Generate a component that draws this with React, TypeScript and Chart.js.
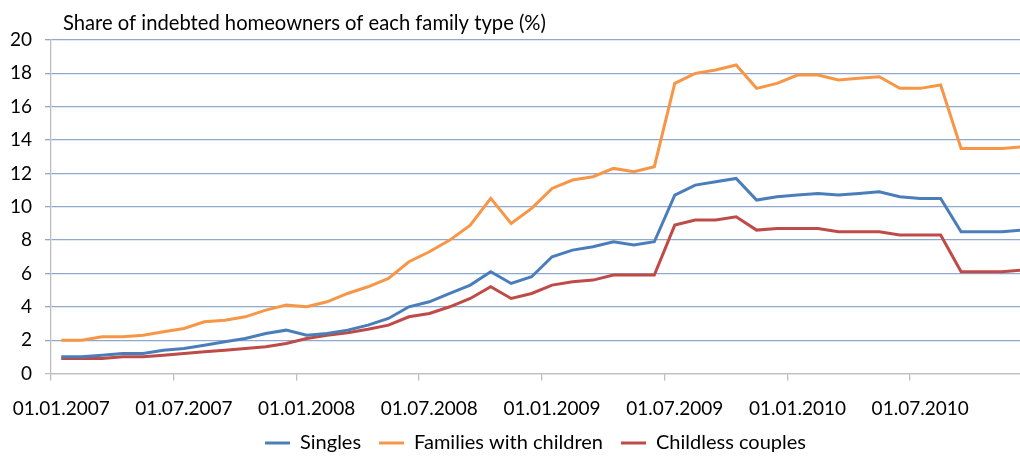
import { useEffect, useRef } from 'react';
import { Chart, registerables } from 'chart.js';

Chart.register(...registerables);

const FONT = 'Lato, "Open Sans", sans-serif';
const TITLE = 'Share of indebted homeowners of each family type (%)';

// Monthly observations, 01.01.2007 ... 01.12.2010
const months: string[] = [
  '01.01.2007', '01.02.2007', '01.03.2007', '01.04.2007', '01.05.2007', '01.06.2007',
  '01.07.2007', '01.08.2007', '01.09.2007', '01.10.2007', '01.11.2007', '01.12.2007',
  '01.01.2008', '01.02.2008', '01.03.2008', '01.04.2008', '01.05.2008', '01.06.2008',
  '01.07.2008', '01.08.2008', '01.09.2008', '01.10.2008', '01.11.2008', '01.12.2008',
  '01.01.2009', '01.02.2009', '01.03.2009', '01.04.2009', '01.05.2009', '01.06.2009',
  '01.07.2009', '01.08.2009', '01.09.2009', '01.10.2009', '01.11.2009', '01.12.2009',
  '01.01.2010', '01.02.2010', '01.03.2010', '01.04.2010', '01.05.2010', '01.06.2010',
  '01.07.2010', '01.08.2010', '01.09.2010', '01.10.2010', '01.11.2010', '01.12.2010',
];

const singles: number[] = [
  1.0, 1.0, 1.1, 1.2, 1.2, 1.4, 1.5, 1.7, 1.9, 2.1, 2.4, 2.6,
  2.3, 2.4, 2.6, 2.9, 3.3, 4.0, 4.3, 4.8, 5.3, 6.1, 5.4, 5.8,
  7.0, 7.4, 7.6, 7.9, 7.7, 7.9, 10.7, 11.3, 11.5, 11.7, 10.4, 10.6,
  10.7, 10.8, 10.7, 10.8, 10.9, 10.6, 10.5, 10.5, 8.5, 8.5, 8.5, 8.6,
];

const families: number[] = [
  2.0, 2.0, 2.2, 2.2, 2.3, 2.5, 2.7, 3.1, 3.2, 3.4, 3.8, 4.1,
  4.0, 4.3, 4.8, 5.2, 5.7, 6.7, 7.3, 8.0, 8.9, 10.5, 9.0, 9.9,
  11.1, 11.6, 11.8, 12.3, 12.1, 12.4, 17.4, 18.0, 18.2, 18.5, 17.1, 17.4,
  17.9, 17.9, 17.6, 17.7, 17.8, 17.1, 17.1, 17.3, 13.5, 13.5, 13.5, 13.6,
];

const childless: number[] = [
  0.9, 0.9, 0.9, 1.0, 1.0, 1.1, 1.2, 1.3, 1.4, 1.5, 1.6, 1.8,
  2.1, 2.3, 2.45, 2.65, 2.9, 3.4, 3.6, 4.0, 4.5, 5.2, 4.5, 4.8,
  5.3, 5.5, 5.6, 5.9, 5.9, 5.9, 8.9, 9.2, 9.2, 9.4, 8.6, 8.7,
  8.7, 8.7, 8.5, 8.5, 8.5, 8.3, 8.3, 8.3, 6.1, 6.1, 6.1, 6.2,
];

const tickLabels: string[] = [
  '01.01.2007', '01.07.2007', '01.01.2008', '01.07.2008',
  '01.01.2009', '01.07.2009', '01.01.2010', '01.07.2010',
];

const seriesNames: string[] = ['Singles', 'Families with children', 'Childless couples'];
const seriesColors: string[] = ['#4A7EBB', '#F79646', '#BE4B48'];

export default function App() {
  const ref = useRef<HTMLCanvasElement | null>(null);

  useEffect(() => {
    if (!ref.current) return;
    const toXY = (arr: number[]) => arr.map((y, i) => ({ x: i, y }));
    const allSeries = [singles, families, childless];

    const titlePlugin = {
      id: 'topTitle',
      afterDraw(chart: any) {
        const ctx = chart.ctx;
        ctx.save();
        ctx.font = `20.2px ${FONT}`;
        ctx.fillStyle = '#000';
        ctx.textAlign = 'left';
        ctx.textBaseline = 'alphabetic';
        ctx.fillText(TITLE, chart.chartArea.left + 12, 30);
        ctx.restore();
      },
    };

    const chart = new Chart(ref.current, {
      type: 'line',
      data: {
        datasets: allSeries.map((arr, k) => ({
          label: seriesNames[k],
          data: toXY(arr),
          borderColor: seriesColors[k],
          backgroundColor: seriesColors[k],
          borderWidth: 3,
          pointRadius: 0,
          tension: 0,
          fill: false,
        })),
      },
      options: {
        animation: false,
        responsive: false,
        layout: { padding: { top: 40, left: 0, right: 0, bottom: -7 } },
        plugins: {
          title: { display: false },
          tooltip: { enabled: false },
          legend: {
            position: 'bottom',
            fullSize: false,
            labels: {
              usePointStyle: true,
              pointStyle: 'line',
              pointStyleWidth: 25,
              padding: 18,
              color: '#000',
              font: { family: FONT, size: 20 },
            },
          },
        },
        scales: {
          x: {
            type: 'linear',
            min: -0.5,
            max: 46.88,
            afterBuildTicks: (scale: any) => {
              scale.ticks = tickLabels.map((_, k) => ({ value: k * 6 - 0.5 }));
            },
            afterFit: (scale: any) => {
              scale.height = 41.5;
              scale.paddingLeft = 0;
              scale.paddingRight = 0;
            },
            grid: {
              drawOnChartArea: false,
              drawTicks: true,
              tickLength: 7,
              color: '#BEBEBE',
              lineWidth: 1.3,
            },
            border: { color: '#BEBEBE', width: 1.3 },
            ticks: {
              autoSkip: false,
              maxRotation: 0,
              labelOffset: 10.2,
              padding: 17,
              color: '#000',
              font: { family: FONT, size: 19 },
              callback: (value: any) => tickLabels[Math.round((Number(value) + 0.5) / 6)] ?? '',
            },
          },
          y: {
            min: 0,
            max: 20,
            afterFit: (scale: any) => {
              scale.width = 51;
            },
            grid: {
              color: (c: any) => (c.tick && c.tick.value === 0 ? '#BEBEBE' : '#90A8CB'),
              lineWidth: 1.3,
              tickLength: 6,
            },
            border: { color: '#BEBEBE', width: 1.3 },
            ticks: {
              stepSize: 2,
              padding: 13,
              color: '#000',
              font: { family: FONT, size: 19 },
            },
          },
        },
      },
      plugins: [titlePlugin],
    });

    return () => chart.destroy();
  }, []);

  return (
    <div style={{ position: 'fixed', left: 0, top: 0, width: 1020, height: 456, background: '#fff', overflow: 'hidden' }}>
      <canvas ref={ref} width={1020} height={456} style={{ display: 'block' }} />
    </div>
  );
}
